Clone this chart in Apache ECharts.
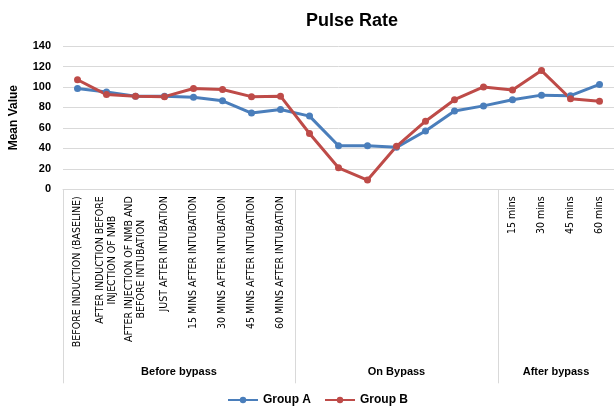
<!DOCTYPE html>
<html>
<head>
<meta charset="utf-8">
<script src="https://cdn.jsdelivr.net/npm/echarts@6/dist/echarts.min.js"></script>
<style>
  html, body { margin: 0; padding: 0; background: #fff; }
  #chart { width: 614px; height: 408px; }
</style>
</head>
<body>
<div id="chart"></div>
<script>
// categories (first level) and their groups (second level)
const categories = [
  "BEFORE INDUCTION (BASELINE)",
  "AFTER INDUCTION BEFORE\nINJECTION OF NMB",
  "AFTER INJECTION OF NMB AND\nBEFORE INTUBATION",
  "JUST AFTER INTUBATION",
  "15 MINS AFTER INTUBATION",
  "30 MINS AFTER INTUBATION",
  "45 MINS AFTER INTUBATION",
  "60 MINS AFTER INTUBATION",
  "", "", "", "", "", "", "",
  "15 mins", "30 mins", "45 mins", "60 mins"
];
const groupNames = ["Before bypass", "On Bypass", "After bypass"];
const groupSizes = [8, 7, 4];

const groupA = [98.5, 95, 91, 91, 90, 86.5, 74.5, 78, 71.5, 42.5, 42.5, 41, 57, 76.5, 81.5, 87.5, 92, 91.5, 102.5];
const groupB = [107, 92.5, 91, 90.5, 98.5, 97.5, 90.5, 91, 54.5, 21, 9, 42, 66.5, 87.5, 100, 97, 116, 88.5, 86];

const yTicks = { min: 0, max: 140, interval: 20 };

// group boundaries and centres in category units
const bounds = [0];
const centres = [];
groupSizes.forEach((n) => {
  const start = bounds[bounds.length - 1];
  centres.push(start + n / 2);
  bounds.push(start + n);
});

const chart = echarts.init(document.getElementById("chart"));
const labelFont = "'Liberation Sans Narrow', 'DejaVu Sans Condensed', 'Liberation Sans', sans-serif";
const boldFont = "'Liberation Sans', Arial, sans-serif";
const grey = "#d9d9d9";

chart.setOption({
  animation: false,
  title: {
    text: "Pulse Rate",
    left: 347,
    textAlign: "center",
    top: 7,
    textStyle: { fontFamily: boldFont, fontSize: 18, fontWeight: "bold", color: "#000" },
  },
  legend: {
    top: 394,
    left: 227,
    padding: 0,
    itemWidth: 30,
    itemHeight: 8,
    itemGap: 13,
    textStyle: { fontFamily: boldFont, fontSize: 12, fontWeight: "bold", color: "#000" },
    data: ["Group A", "Group B"],
  },
  grid: { left: 62, right: 0, top: 46, bottom: 218.7 },
  xAxis: [
    {
      type: "category",
      data: categories,
      boundaryGap: true,
      axisLine: { lineStyle: { color: grey, width: 1 } },
      axisTick: { show: false },
      axisLabel: {
        interval: 0,
        rotate: 90,
        margin: 7,
        align: "right",
        formatter: (v) => v.split("\n").map((l) => "{c|" + l + "}").join("\n"),
        rich: {
          c: {
            align: "center",
            fontFamily: labelFont,
            fontSize: 10.5,
            lineHeight: 12,
            color: "#000",
          },
        },
      },
    },
    {
      type: "value",
      min: 0,
      max: categories.length,
      position: "bottom",
      axisLine: { show: false },
      splitLine: { show: false },
      axisTick: {
        show: true,
        customValues: bounds.slice(0, -1),
        length: 194,
        lineStyle: { color: grey, width: 1 },
      },
      axisLabel: {
        customValues: centres,
        margin: 177,
        formatter: (v) => groupNames[centres.indexOf(v)] || "",
        fontFamily: boldFont,
        fontSize: 11,
        fontWeight: "bold",
        color: "#000",
      },
    },
  ],
  yAxis: {
    type: "value",
    min: yTicks.min,
    max: yTicks.max,
    interval: yTicks.interval,
    name: "Mean Value",
    nameLocation: "middle",
    nameGap: 43,
    nameTextStyle: { fontFamily: boldFont, fontSize: 12, fontWeight: "bold", color: "#000" },
    axisLine: { show: false },
    axisTick: { show: false },
    axisLabel: { margin: 12, fontFamily: boldFont, fontSize: 11, fontWeight: "bold", color: "#000" },
    splitLine: { lineStyle: { color: grey, width: 1 } },
  },
  series: [
    {
      name: "Group A",
      type: "line",
      data: groupA,
      symbol: "circle",
      symbolSize: 7,
      lineStyle: { width: 3, color: "#4a7ebb" },
      itemStyle: { color: "#4a7ebb" },
    },
    {
      name: "Group B",
      type: "line",
      data: groupB,
      symbol: "circle",
      symbolSize: 7,
      lineStyle: { width: 3, color: "#be4b48" },
      itemStyle: { color: "#be4b48" },
    },
  ],
});
</script>
</body>
</html>
